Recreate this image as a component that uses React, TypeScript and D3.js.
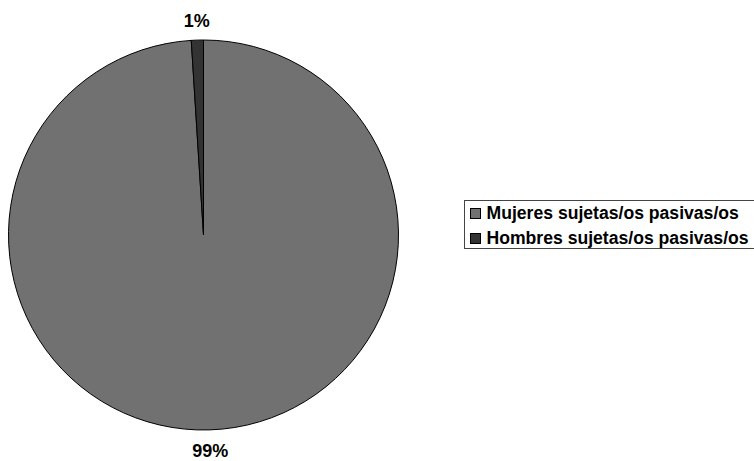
import React from "react";
import * as d3 from "d3";

const categories = ["Mujeres sujetas/os pasivas/os", "Hombres sujetas/os pasivas/os"];
const values = [99, 1];
const labels = ["99%", "1%"];
const colors = ["#717171", "#333333"];

const W = 754;
const H = 461;

export default function App() {
  const cx = 203.5;
  const cy = 235;
  const r = 195;
  const pie = d3.pie<number>().sort(null).value((d) => d);
  const arcs = pie(values);
  const arcGen = d3.arc<d3.PieArcDatum<number>>().innerRadius(0).outerRadius(r);
  const labelArc = d3.arc<d3.PieArcDatum<number>>().innerRadius(215).outerRadius(215);

  const legendX = 464.5;
  const legendY = 200.5;
  const rowH = 25;

  return (
    <svg
      width={W}
      height={H}
      style={{ position: "absolute", left: 0, top: 0, background: "#fff" }}
      fontFamily="'Liberation Sans', Arial, sans-serif"
    >
      <g transform={`translate(${cx},${cy})`}>
        {arcs.map((a, i) => (
          <path key={i} d={arcGen(a) || ""} fill={colors[i]} stroke="#000" strokeWidth={1} />
        ))}
        {arcs.map((a, i) => {
          const [x, y] = labelArc.centroid(a);
          return (
            <text
              key={"l" + i}
              x={x}
              y={y + 1}
              textAnchor="middle"
              dominantBaseline="central"
              fontSize={18}
              fontWeight="bold"
              fill="#000"
            >
              {labels[i]}
            </text>
          );
        })}
      </g>
      <rect x={legendX} y={legendY} width={290} height={48} fill="#fff" stroke="#444" strokeWidth={1} />
      {categories.map((c, i) => (
        <g key={c} transform={`translate(${legendX + 6},${legendY + 8 + i * rowH})`}>
          <rect x={0} y={0} width={10} height={10} fill={colors[i]} stroke="#000" strokeWidth={1} />
          <text x={16} y={10.5} fontSize={17.6} fontWeight="bold" fill="#000">
            {c}
          </text>
        </g>
      ))}
    </svg>
  );
}
